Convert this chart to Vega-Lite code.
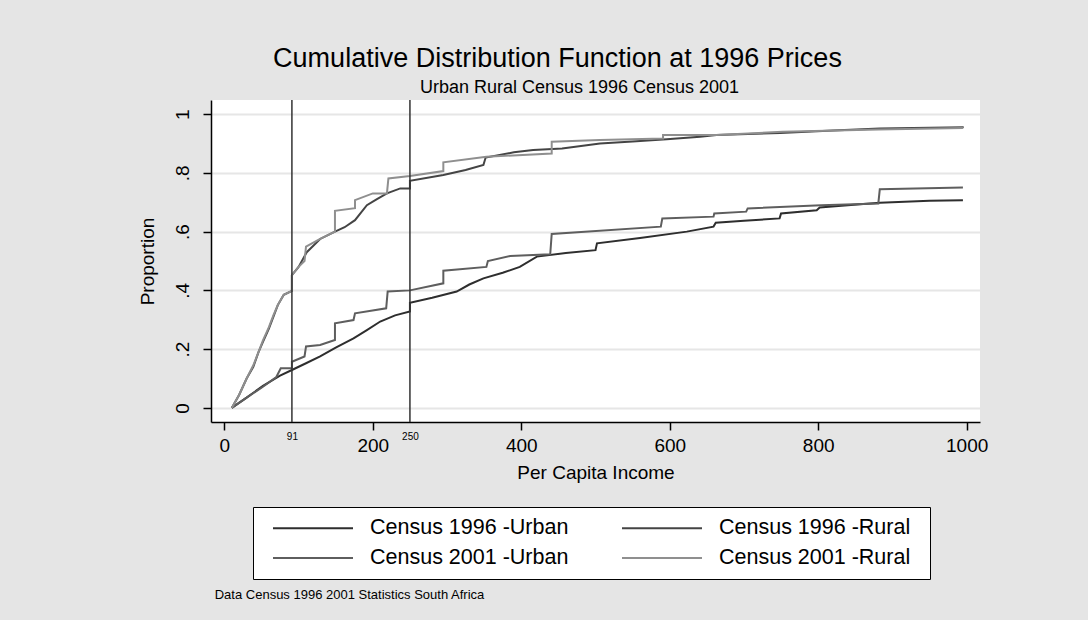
{
  "$schema": "https://vega.github.io/schema/vega-lite/v6.json",
  "autosize": "none",
  "width": 769,
  "height": 322,
  "padding": {"left": 211, "top": 100, "right": 108, "bottom": 198},
  "background": "#e5e5e5",
  "title": {
    "text": "Cumulative Distribution Function at 1996 Prices",
    "anchor": "middle",
    "frame": "group",
    "dx": -38,
    "offset": 5,
    "font": "Liberation Sans",
    "fontSize": 27,
    "fontWeight": "normal",
    "color": "#000000"
  },
  "config": {
    "view": {"stroke": null, "fill": "#ffffff"},
    "font": "Liberation Sans",
    "axis": {
      "domainColor": "#000000",
      "domainWidth": 1.5,
      "tickColor": "#000000",
      "tickWidth": 1.5,
      "labelColor": "#000000",
      "titleColor": "#000000",
      "labelFont": "Liberation Sans",
      "titleFont": "Liberation Sans",
      "titleFontWeight": "normal"
    }
  },
  "datasets": {
    "cdf": [
      {"series": "Census 1996 -Urban", "i": 1, "income": 10, "p": 0},
      {"series": "Census 1996 -Urban", "i": 2, "income": 30, "p": 0.035},
      {"series": "Census 1996 -Urban", "i": 3, "income": 52, "p": 0.075},
      {"series": "Census 1996 -Urban", "i": 4, "income": 75, "p": 0.11},
      {"series": "Census 1996 -Urban", "i": 5, "income": 91, "p": 0.129},
      {"series": "Census 1996 -Urban", "i": 6, "income": 110, "p": 0.152},
      {"series": "Census 1996 -Urban", "i": 7, "income": 129, "p": 0.175},
      {"series": "Census 1996 -Urban", "i": 8, "income": 150, "p": 0.205},
      {"series": "Census 1996 -Urban", "i": 9, "income": 174, "p": 0.237},
      {"series": "Census 1996 -Urban", "i": 10, "income": 192, "p": 0.265},
      {"series": "Census 1996 -Urban", "i": 11, "income": 210, "p": 0.294},
      {"series": "Census 1996 -Urban", "i": 12, "income": 230, "p": 0.315},
      {"series": "Census 1996 -Urban", "i": 13, "income": 250, "p": 0.328},
      {"series": "Census 1996 -Urban", "i": 14, "income": 250, "p": 0.358},
      {"series": "Census 1996 -Urban", "i": 15, "income": 280, "p": 0.375},
      {"series": "Census 1996 -Urban", "i": 16, "income": 313, "p": 0.396},
      {"series": "Census 1996 -Urban", "i": 17, "income": 330, "p": 0.42},
      {"series": "Census 1996 -Urban", "i": 18, "income": 349, "p": 0.441},
      {"series": "Census 1996 -Urban", "i": 19, "income": 375, "p": 0.46},
      {"series": "Census 1996 -Urban", "i": 20, "income": 398, "p": 0.48},
      {"series": "Census 1996 -Urban", "i": 21, "income": 421, "p": 0.515},
      {"series": "Census 1996 -Urban", "i": 22, "income": 460, "p": 0.527},
      {"series": "Census 1996 -Urban", "i": 23, "income": 500, "p": 0.537},
      {"series": "Census 1996 -Urban", "i": 24, "income": 502, "p": 0.56},
      {"series": "Census 1996 -Urban", "i": 25, "income": 560, "p": 0.578},
      {"series": "Census 1996 -Urban", "i": 26, "income": 623, "p": 0.6},
      {"series": "Census 1996 -Urban", "i": 27, "income": 659, "p": 0.617},
      {"series": "Census 1996 -Urban", "i": 28, "income": 662, "p": 0.63},
      {"series": "Census 1996 -Urban", "i": 29, "income": 700, "p": 0.637},
      {"series": "Census 1996 -Urban", "i": 30, "income": 748, "p": 0.645},
      {"series": "Census 1996 -Urban", "i": 31, "income": 750, "p": 0.662},
      {"series": "Census 1996 -Urban", "i": 32, "income": 798, "p": 0.673},
      {"series": "Census 1996 -Urban", "i": 33, "income": 802, "p": 0.682},
      {"series": "Census 1996 -Urban", "i": 34, "income": 861, "p": 0.694},
      {"series": "Census 1996 -Urban", "i": 35, "income": 883, "p": 0.698},
      {"series": "Census 1996 -Urban", "i": 36, "income": 950, "p": 0.705},
      {"series": "Census 1996 -Urban", "i": 37, "income": 995, "p": 0.707},

      {"series": "Census 1996 -Rural", "i": 1, "income": 10, "p": 0},
      {"series": "Census 1996 -Rural", "i": 2, "income": 20, "p": 0.045},
      {"series": "Census 1996 -Rural", "i": 3, "income": 30, "p": 0.1},
      {"series": "Census 1996 -Rural", "i": 4, "income": 39, "p": 0.14},
      {"series": "Census 1996 -Rural", "i": 5, "income": 46, "p": 0.19},
      {"series": "Census 1996 -Rural", "i": 6, "income": 52, "p": 0.225},
      {"series": "Census 1996 -Rural", "i": 7, "income": 60, "p": 0.27},
      {"series": "Census 1996 -Rural", "i": 8, "income": 66, "p": 0.31},
      {"series": "Census 1996 -Rural", "i": 9, "income": 72, "p": 0.35},
      {"series": "Census 1996 -Rural", "i": 10, "income": 80, "p": 0.385},
      {"series": "Census 1996 -Rural", "i": 11, "income": 91, "p": 0.398},
      {"series": "Census 1996 -Rural", "i": 12, "income": 91, "p": 0.452},
      {"series": "Census 1996 -Rural", "i": 13, "income": 100, "p": 0.48},
      {"series": "Census 1996 -Rural", "i": 14, "income": 111, "p": 0.53},
      {"series": "Census 1996 -Rural", "i": 15, "income": 129, "p": 0.575},
      {"series": "Census 1996 -Rural", "i": 16, "income": 149, "p": 0.6},
      {"series": "Census 1996 -Rural", "i": 17, "income": 162, "p": 0.615},
      {"series": "Census 1996 -Rural", "i": 18, "income": 176, "p": 0.639},
      {"series": "Census 1996 -Rural", "i": 19, "income": 192, "p": 0.69},
      {"series": "Census 1996 -Rural", "i": 20, "income": 205, "p": 0.71},
      {"series": "Census 1996 -Rural", "i": 21, "income": 219, "p": 0.73},
      {"series": "Census 1996 -Rural", "i": 22, "income": 237, "p": 0.747},
      {"series": "Census 1996 -Rural", "i": 23, "income": 250, "p": 0.747},
      {"series": "Census 1996 -Rural", "i": 24, "income": 250, "p": 0.773},
      {"series": "Census 1996 -Rural", "i": 25, "income": 295, "p": 0.793},
      {"series": "Census 1996 -Rural", "i": 26, "income": 325, "p": 0.81},
      {"series": "Census 1996 -Rural", "i": 27, "income": 349, "p": 0.827},
      {"series": "Census 1996 -Rural", "i": 28, "income": 352, "p": 0.852},
      {"series": "Census 1996 -Rural", "i": 29, "income": 390, "p": 0.87},
      {"series": "Census 1996 -Rural", "i": 30, "income": 416, "p": 0.878},
      {"series": "Census 1996 -Rural", "i": 31, "income": 455, "p": 0.883},
      {"series": "Census 1996 -Rural", "i": 32, "income": 506, "p": 0.9},
      {"series": "Census 1996 -Rural", "i": 33, "income": 550, "p": 0.907},
      {"series": "Census 1996 -Rural", "i": 34, "income": 596, "p": 0.914},
      {"series": "Census 1996 -Rural", "i": 35, "income": 641, "p": 0.923},
      {"series": "Census 1996 -Rural", "i": 36, "income": 663, "p": 0.929},
      {"series": "Census 1996 -Rural", "i": 37, "income": 749, "p": 0.936},
      {"series": "Census 1996 -Rural", "i": 38, "income": 820, "p": 0.944},
      {"series": "Census 1996 -Rural", "i": 39, "income": 883, "p": 0.951},
      {"series": "Census 1996 -Rural", "i": 40, "income": 996, "p": 0.955},

      {"series": "Census 2001 -Urban", "i": 1, "income": 10, "p": 0},
      {"series": "Census 2001 -Urban", "i": 2, "income": 30, "p": 0.035},
      {"series": "Census 2001 -Urban", "i": 3, "income": 52, "p": 0.072},
      {"series": "Census 2001 -Urban", "i": 4, "income": 70, "p": 0.105},
      {"series": "Census 2001 -Urban", "i": 5, "income": 76, "p": 0.135},
      {"series": "Census 2001 -Urban", "i": 6, "income": 91, "p": 0.135},
      {"series": "Census 2001 -Urban", "i": 7, "income": 91, "p": 0.157},
      {"series": "Census 2001 -Urban", "i": 8, "income": 108, "p": 0.175},
      {"series": "Census 2001 -Urban", "i": 9, "income": 110, "p": 0.209},
      {"series": "Census 2001 -Urban", "i": 10, "income": 129, "p": 0.214},
      {"series": "Census 2001 -Urban", "i": 11, "income": 149, "p": 0.231},
      {"series": "Census 2001 -Urban", "i": 12, "income": 149, "p": 0.288},
      {"series": "Census 2001 -Urban", "i": 13, "income": 174, "p": 0.299},
      {"series": "Census 2001 -Urban", "i": 14, "income": 176, "p": 0.322},
      {"series": "Census 2001 -Urban", "i": 15, "income": 218, "p": 0.339},
      {"series": "Census 2001 -Urban", "i": 16, "income": 220, "p": 0.396},
      {"series": "Census 2001 -Urban", "i": 17, "income": 250, "p": 0.4},
      {"series": "Census 2001 -Urban", "i": 18, "income": 295, "p": 0.424},
      {"series": "Census 2001 -Urban", "i": 19, "income": 295, "p": 0.467},
      {"series": "Census 2001 -Urban", "i": 20, "income": 353, "p": 0.48},
      {"series": "Census 2001 -Urban", "i": 21, "income": 355, "p": 0.5},
      {"series": "Census 2001 -Urban", "i": 22, "income": 385, "p": 0.517},
      {"series": "Census 2001 -Urban", "i": 23, "income": 439, "p": 0.523},
      {"series": "Census 2001 -Urban", "i": 24, "income": 441, "p": 0.592},
      {"series": "Census 2001 -Urban", "i": 25, "income": 588, "p": 0.617},
      {"series": "Census 2001 -Urban", "i": 26, "income": 590, "p": 0.645},
      {"series": "Census 2001 -Urban", "i": 27, "income": 659, "p": 0.651},
      {"series": "Census 2001 -Urban", "i": 28, "income": 660, "p": 0.662},
      {"series": "Census 2001 -Urban", "i": 29, "income": 703, "p": 0.668},
      {"series": "Census 2001 -Urban", "i": 30, "income": 705, "p": 0.679},
      {"series": "Census 2001 -Urban", "i": 31, "income": 804, "p": 0.69},
      {"series": "Census 2001 -Urban", "i": 32, "income": 881, "p": 0.696},
      {"series": "Census 2001 -Urban", "i": 33, "income": 883, "p": 0.744},
      {"series": "Census 2001 -Urban", "i": 34, "income": 995, "p": 0.75},

      {"series": "Census 2001 -Rural", "i": 1, "income": 10, "p": 0},
      {"series": "Census 2001 -Rural", "i": 2, "income": 20, "p": 0.045},
      {"series": "Census 2001 -Rural", "i": 3, "income": 30, "p": 0.1},
      {"series": "Census 2001 -Rural", "i": 4, "income": 39, "p": 0.145},
      {"series": "Census 2001 -Rural", "i": 5, "income": 46, "p": 0.19},
      {"series": "Census 2001 -Rural", "i": 6, "income": 52, "p": 0.23},
      {"series": "Census 2001 -Rural", "i": 7, "income": 60, "p": 0.275},
      {"series": "Census 2001 -Rural", "i": 8, "income": 66, "p": 0.315},
      {"series": "Census 2001 -Rural", "i": 9, "income": 72, "p": 0.35},
      {"series": "Census 2001 -Rural", "i": 10, "income": 80, "p": 0.385},
      {"series": "Census 2001 -Rural", "i": 11, "income": 91, "p": 0.398},
      {"series": "Census 2001 -Rural", "i": 12, "income": 91, "p": 0.452},
      {"series": "Census 2001 -Rural", "i": 13, "income": 100, "p": 0.48},
      {"series": "Census 2001 -Rural", "i": 14, "income": 108, "p": 0.5},
      {"series": "Census 2001 -Rural", "i": 15, "income": 110, "p": 0.549},
      {"series": "Census 2001 -Rural", "i": 16, "income": 129, "p": 0.575},
      {"series": "Census 2001 -Rural", "i": 17, "income": 149, "p": 0.6},
      {"series": "Census 2001 -Rural", "i": 18, "income": 149, "p": 0.671},
      {"series": "Census 2001 -Rural", "i": 19, "income": 176, "p": 0.68},
      {"series": "Census 2001 -Rural", "i": 20, "income": 176, "p": 0.707},
      {"series": "Census 2001 -Rural", "i": 21, "income": 200, "p": 0.73},
      {"series": "Census 2001 -Rural", "i": 22, "income": 219, "p": 0.73},
      {"series": "Census 2001 -Rural", "i": 23, "income": 221, "p": 0.781},
      {"series": "Census 2001 -Rural", "i": 24, "income": 250, "p": 0.789},
      {"series": "Census 2001 -Rural", "i": 25, "income": 295, "p": 0.806},
      {"series": "Census 2001 -Rural", "i": 26, "income": 295, "p": 0.836},
      {"series": "Census 2001 -Rural", "i": 27, "income": 353, "p": 0.855},
      {"series": "Census 2001 -Rural", "i": 28, "income": 441, "p": 0.866},
      {"series": "Census 2001 -Rural", "i": 29, "income": 441, "p": 0.906},
      {"series": "Census 2001 -Rural", "i": 30, "income": 506, "p": 0.912},
      {"series": "Census 2001 -Rural", "i": 31, "income": 591, "p": 0.917},
      {"series": "Census 2001 -Rural", "i": 32, "income": 591, "p": 0.929},
      {"series": "Census 2001 -Rural", "i": 33, "income": 663, "p": 0.929},
      {"series": "Census 2001 -Rural", "i": 34, "income": 752, "p": 0.94},
      {"series": "Census 2001 -Rural", "i": 35, "income": 881, "p": 0.948},
      {"series": "Census 2001 -Rural", "i": 36, "income": 995, "p": 0.953}
    ],
    "cutoffs": [{"cut": 91}, {"cut": 250}],
    "note": [{"text": "Data Census 1996 2001 Statistics South Africa", "nx": -13, "p": -0.636}]
  },
  "layer": [
    {
      "data": {"name": "cdf"},
      "mark": {"type": "line", "strokeWidth": 2, "clip": false},
      "encoding": {
        "x": {
          "field": "income",
          "type": "quantitative",
          "scale": {"domain": [-18, 1018], "nice": false, "zero": false},
          "axis": {
            "orient": "bottom",
            "title": "Per Capita Income",
            "titleFontSize": 19,
            "titlePadding": 8,
            "values": [0, 91, 200, 250, 400, 600, 800, 1000],
            "format": "d",
            "grid": false,
            "tickSize": 8,
            "tickOpacity": {"condition": {"test": "datum.value == 91 || datum.value == 250", "value": 0}, "value": 1},
            "labelFontSize": {"condition": {"test": "datum.value == 91 || datum.value == 250", "value": 10}, "value": 19},
            "labelBaseline": {"condition": {"test": "datum.value == 91 || datum.value == 250", "value": "middle"}, "value": "top"},
            "labelPadding": 6,
            "labelFlush": false,
            "labelOverlap": false
          }
        },
        "y": {
          "field": "p",
          "type": "quantitative",
          "scale": {"domain": [-0.048, 1.048], "nice": false, "zero": false},
          "axis": {
            "title": "Proportion",
            "titleFontSize": 19,
            "titlePadding": 16,
            "values": [0, 0.2, 0.4, 0.6, 0.8, 1],
            "labelExpr": "datum.value == 0 ? '0' : datum.value == 1 ? '1' : replace(format(datum.value, '.1f'), '0.', '.')",
            "labelAngle": -90,
            "labelAlign": "center",
            "labelBaseline": "alphabetic",
            "labelFontSize": 19,
            "labelPadding": 15,
            "tickSize": 8,
            "grid": true,
            "gridColor": "#e6e6e6",
            "gridWidth": 2
          }
        },
        "order": {"field": "i", "type": "quantitative"},
        "color": {
          "field": "series",
          "type": "nominal",
          "scale": {
            "domain": ["Census 1996 -Urban", "Census 2001 -Urban", "Census 1996 -Rural", "Census 2001 -Rural"],
            "range": ["#2e2e2e", "#5e5e5e", "#444444", "#8f8f8f"]
          },
          "legend": {
            "orient": "none",
            "legendX": 42,
            "legendY": 407,
            "columns": 2,
            "title": ".",
            "titleOrient": "right",
            "titleFontSize": 2,
            "titleOpacity": 0,
            "titlePadding": 9,
            "symbolType": "M-4,0H4",
            "symbolSize": 400,
            "symbolStrokeWidth": 2,
            "symbolOffset": 39,
            "labelOffset": 46,
            "labelFontSize": 21.5,
            "labelFont": "Liberation Sans",
            "labelColor": "#000000",
            "strokeColor": "#000000",
            "fillColor": "#ffffff",
            "padding": 10,
            "columnPadding": 43,
            "rowPadding": 8,
            "labelLimit": 400
          }
        }
      }
    },
    {
      "data": {"name": "cutoffs"},
      "mark": {"type": "rule", "color": "#333333", "strokeWidth": 1.5},
      "encoding": {
        "x": {
          "field": "cut",
          "type": "quantitative",
          "axis": {
            "orient": "top",
            "labels": false,
            "ticks": false,
            "domain": false,
            "grid": false,
            "title": "Urban Rural Census 1996 Census 2001",
            "titleFontSize": 18,
            "titleX": 368,
            "titleY": -8,
            "titleAlign": "center",
            "titleBaseline": "alphabetic",
            "titleAngle": 0
          }
        }
      }
    },
    {
      "data": {"name": "note"},
      "mark": {"type": "text", "align": "left", "baseline": "middle", "fontSize": 13, "font": "Liberation Sans", "color": "#000000", "clip": false},
      "encoding": {
        "x": {"field": "nx", "type": "quantitative", "axis": null},
        "y": {"field": "p", "type": "quantitative"},
        "text": {"field": "text"}
      }
    }
  ]
}
